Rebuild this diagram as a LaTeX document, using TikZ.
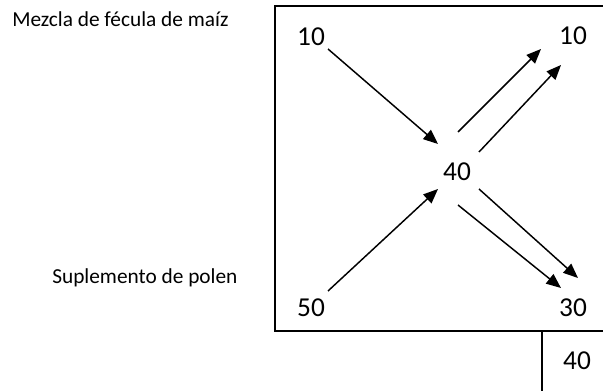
\documentclass[tikz,border=0pt]{standalone}
\usepackage{fontspec}
\setmainfont{Carlito}
\usetikzlibrary{arrows.meta}
\tikzset{
  num/.style={inner sep=0pt, anchor=base, font=\fontsize{20.5}{24}\selectfont},
  lbl/.style={inner sep=0pt, anchor=base west, font=\fontsize{16}{19}\selectfont},
  flow/.style={line width=1.1pt, -{Triangle[length=11pt,width=9pt]}},
  frame/.style={line width=1.1pt}
}
\begin{document}
\begin{tikzpicture}[x=0.75pt,y=-0.75pt]
\useasboundingbox (0,0) rectangle (603,391);
\clip (0,0) rectangle (603,391);
% frames
\draw[frame] (275,6) rectangle (620,331);
\draw[frame] (542,331) rectangle (620,400);
% labels
\node[lbl] (mezcla) at (12,27) {Mezcla de fécula de maíz};
\node[lbl] (polen) at (52,284) {Suplemento de polen};
% numbers
\node[num] (tl) at (311,46) {10};
\node[num] (tr) at (573,45) {10};
\node[num] (mid) at (457,181) {40};
\node[num] (bl) at (311,317) {50};
\node[num] (br) at (573,317) {30};
\node[num] (out) at (577,370) {40};
% arrow end points
\coordinate (a1s) at (328,49);  \coordinate (a1e) at (438,144);
\coordinate (a2s) at (328,291); \coordinate (a2e) at (438,189);
\coordinate (a3s) at (458,132); \coordinate (a3e) at (541,49);
\coordinate (a4s) at (479,152); \coordinate (a4e) at (561,65);
\coordinate (a5s) at (479,189); \coordinate (a5e) at (578,278);
\coordinate (a6s) at (458,205); \coordinate (a6e) at (561,288);
\draw[flow] (a1s) -- (a1e);
\draw[flow] (a2s) -- (a2e);
\draw[flow] (a3s) -- (a3e);
\draw[flow] (a4s) -- (a4e);
\draw[flow] (a5s) -- (a5e);
\draw[flow] (a6s) -- (a6e);
\end{tikzpicture}
\end{document}
